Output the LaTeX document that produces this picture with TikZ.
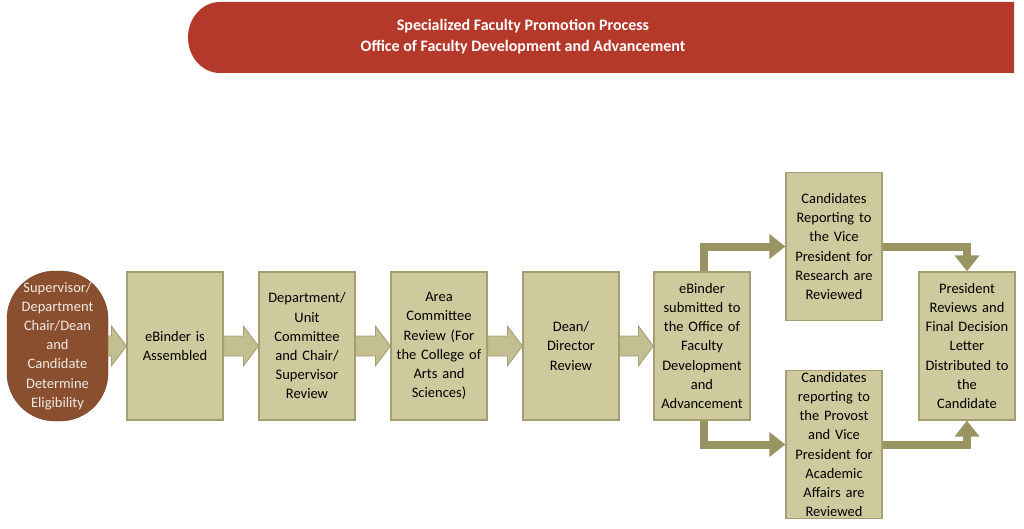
\documentclass[tikz,border=0pt]{standalone}
\usepackage{fontspec}
\setmainfont{Carlito}
\usetikzlibrary{calc,arrows.meta}
\definecolor{boxf}{HTML}{CFCA9E}
\definecolor{boxd}{HTML}{A49E72}
\definecolor{arrf}{HTML}{C4BF92}
\definecolor{elb}{HTML}{9A9462}
\definecolor{brn}{HTML}{8A4F2E}
\definecolor{ban}{HTML}{B5392A}
\tikzset{
  stepbox/.style={draw=boxd,line width=1.2pt,fill=boxf,minimum width=96pt,minimum height=148pt,align=center,font=\fontsize{14.5}{19.2}\selectfont,text width=94pt,inner sep=0pt},
  blk/.style={draw=boxd,fill=arrf,line width=0.8pt},
  elbow/.style={draw=elb,line width=8pt,-{Triangle[length=16pt,width=24pt]}}
}
\newcommand\blka[2]{\path let \p1=(#1.east), \p2=(#2.west) in [blk] (\x1,\y1) ++(0,-10) -- ($(\x2,\y2)+(-15,-10)$) -- ++(0,-10) -- (\x2,\y2) -- ++(-15,20) -- ++(0,-10) -- ($(\x1,\y1)+(0,10)$) -- cycle;}
\begin{document}
\begin{tikzpicture}[x=1pt,y=-1pt]
\useasboundingbox (0,0) rectangle (1024,529);
% banner
\fill[ban] (220,2) -- (1014,2) -- (1014,73) -- (220,73) arc[start angle=90,end angle=270,x radius=32,y radius=35.5] -- cycle;
\node[font=\bfseries\fontsize{16}{21}\selectfont,text=white,align=center] (title) at (523,37) {Specialized Faculty Promotion Process\\Office of Faculty Development and Advancement};
% oval
\node[draw=brn!80!black,fill=brn,rectangle,rounded corners=48pt,minimum width=101pt,minimum height=150pt,inner sep=0pt,text=white!88!brn,align=center,font=\fontsize{14.5}{19.2}\selectfont] (o) at (57.5,346) {Supervisor/\\Department\\Chair/Dean\\and\\Candidate\\Determine\\Eligibility};
\node[stepbox] (b1) at (175,346) {eBinder is\\Assembled};
\node[stepbox] (b2) at (307,346) {Department/\\Unit\\Committee\\and Chair/\\Supervisor\\Review};
\node[stepbox] (b3) at (439,346) {Area\\Committee\\Review (For\\the College of\\Arts and\\Sciences)};
\node[stepbox] (b4) at (571,346) {Dean/\\Director\\Review};
\node[stepbox] (b5) at (702,346) {eBinder\\submitted to\\the Office of\\Faculty\\Development\\and\\Advancement};
\node[stepbox] (t) at (834,246.5) {Candidates\\Reporting to\\the Vice\\President for\\Research are\\Reviewed};
\node[stepbox] (u) at (834,444.5) {Candidates\\reporting to\\the Provost\\and Vice\\President for\\Academic\\Affairs are\\Reviewed};
\node[stepbox] (r) at (967,346) {President\\Reviews and\\Final Decision\\Letter\\Distributed to\\the\\Candidate};
% block arrows
\blka{o}{b1}
\blka{b1}{b2}
\blka{b2}{b3}
\blka{b3}{b4}
\blka{b4}{b5}
% elbows
\draw[elbow] (b5.north) ++(2,0) |- (t.west);
\draw[elbow] (b5.south) ++(2,0) |- (u.west);
\draw[elbow] (t.east) -| (r.north);
\draw[elbow] (u.east) -| (r.south);
\end{tikzpicture}
\end{document}
